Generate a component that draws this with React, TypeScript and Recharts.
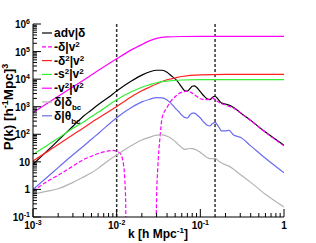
import React from 'react';
import { LineChart, Line, XAxis, YAxis, ReferenceLine } from 'recharts';

const FONT = '"Liberation Sans", Arial, Helvetica, sans-serif';

// k grid [h/Mpc]
const kValues = [
  0.001, 0.0015, 0.002, 0.003, 0.004, 0.005, 0.006, 0.008, 0.009, 0.01,
  0.011, 0.012, 0.0125, 0.0128, 0.0129, 0.013, 0.015, 0.02, 0.025, 0.029,
  0.0295, 0.03, 0.031, 0.033, 0.035, 0.04, 0.045, 0.05, 0.055, 0.06,
  0.065, 0.07, 0.075, 0.08, 0.085, 0.09, 0.1, 0.11, 0.12, 0.13,
  0.14, 0.15, 0.16, 0.17, 0.18, 0.2, 0.22, 0.25, 0.28, 0.3,
  0.4, 0.6, 1,
];

const advDelta = [
  8.1, 26, 60, 195, 450, 760, 1170, 2200, null, 3700,
  null, null, null, null, null, null, 8500, 14000, 18600, null,
  null, 21000, null, null, 21000, 17800, 13200, 10200, 7400, 5100,
  3800, 3650, 4500, 5500, 5700, 5100, 3500, 2500, 1950, 1800,
  2200, 2400, 2000, 1600, 1350, 1240, 1140, 930, 730, 610,
  320, 120, 40,
];
// negative between the two zero crossings -> pushed below the frame
const deltaV2 = [
  0.89, 2.0, 3.3, 7, 12, 16, 20, 25, 26, 24,
  20.5, 9, 2.3, 0.4, 0.03, 0.0001, 0.0001, 0.0001, 0.0001, 0.0001,
  0.02, 0.5, 6, 80, 410, 940, 1660, 2300, null, 3400,
  null, 3650, null, 3100, null, 2400, 1950, null, 1800, 1950,
  2050, 1800, null, 1400, null, 1140, null, 890, null, 600,
  310, 118, 38,
];
const delta2V2 = [
  10.7, 24, 43, 96, 170, 270, 385, null, null, 1020,
  null, null, null, null, null, null, 2300, 3800, 5200, null,
  null, 6700, null, null, null, 9500, null, 11000, null, 12500,
  null, null, null, null, null, null, 14400, null, null, null,
  null, null, null, null, null, 14800, null, null, null, null,
  null, null, 14800,
];
const s2V2 = [
  18.6, 41, 72, 164, 280, 440, 624, null, null, 1800,
  null, null, null, null, null, null, 3500, 5100, 6300, null,
  null, 7400, null, null, null, 8500, null, null, null, 9300,
  null, null, null, null, null, null, 9600, null, null, null,
  null, null, null, null, null, null, null, null, null, null,
  null, null, 9600,
];
const v2V2 = [
  617, null, 2400, null, 9100, null, 20500, null, null, 55000,
  null, null, null, null, null, null, 115000, 180000, 250000, null,
  null, 300000, null, null, null, 340000, null, null, null, 352000,
  null, null, null, null, null, null, 356000, null, null, null,
  null, null, null, null, null, null, null, null, null, null,
  null, null, 356000,
];
const deltaDeltaBc = [
  0.69, 0.87, 1.06, 1.8, 2.8, 4.0, 5.8, 11.3, null, 17.8,
  null, null, null, null, null, null, 39, 62, 79, null,
  null, 94, null, null, 95, 85, 71, 55, null, 33,
  28.5, 29.5, 30.5, 30, null, 27, 22, null, 14.5, 13,
  13, 13.3, null, 10, null, 7.8, 7.0, 5.4, null, 3.5,
  1.8, 0.67, 0.23,
];
const deltaThetaBc = [
  1.0, 2.9, 6.2, 18, 37, 66, 105, null, null, 400,
  null, null, null, null, null, null, 940, 1500, 1870, null,
  null, 2130, null, null, 2100, 1750, 1300, 890, 670, 500,
  410, 390, 500, 590, 590, 520, 390, 277, 218, 200,
  245, 270, 218, 163, 132, 134, 138, 94, 83, 78,
  38, 13.5, 4.0,
];

const xMajorTicks = [0.001, 0.01, 0.1, 1];
const xTickLabels = [['10', '-3'], ['10', '-2'], ['10', '-1'], ['1', '']];
const yMajorTicks = [0.1, 1, 10, 100, 1000, 10000, 100000, 1000000];
const yTickLabels = [
  ['10', '-1'], ['1', ''], ['10', ''], ['10', '2'],
  ['10', '3'], ['10', '4'], ['10', '5'], ['10', '6'],
];
const markerK = [0.01, 0.15];

type Seg = [string, 'n' | 'sup' | 'sub'];

const series: { key: string; values: (number | null)[]; color: string; dash?: string; label: Seg[] }[] = [
  { key: 'adv', values: advDelta, color: '#000000', label: [['adv|δ', 'n']] },
  { key: 'dv', values: deltaV2, color: '#ff00ff', dash: '4 2', label: [['-δ|v', 'n'], ['2', 'sup']] },
  { key: 'ddv', values: delta2V2, color: '#ff2020', label: [['-δ', 'n'], ['2', 'sup'], ['|v', 'n'], ['2', 'sup']] },
  { key: 'ssv', values: s2V2, color: '#33ee33', label: [['-s', 'n'], ['2', 'sup'], ['|v', 'n'], ['2', 'sup']] },
  { key: 'vv', values: v2V2, color: '#ff00ff', label: [['-v', 'n'], ['2', 'sup'], ['|v', 'n'], ['2', 'sup']] },
  { key: 'ddbc', values: deltaDeltaBc, color: '#b4b4b4', label: [['δ|δ', 'n'], ['bc', 'sub']] },
  { key: 'dtbc', values: deltaThetaBc, color: '#6b6bf0', label: [['δ|θ', 'n'], ['bc', 'sub']] },
];

const data = kValues.map((k, i) => {
  const row: Record<string, number | null> = { k };
  series.forEach((s) => {
    row[s.key] = s.values[i];
  });
  return row;
});

const withMinor = (majors: number[]) =>
  majors.flatMap((m, i) =>
    i === majors.length - 1 ? [m] : [m, 2 * m, 3 * m, 4 * m, 5 * m, 6 * m, 7 * m, 8 * m, 9 * m]
  );

const xTicks = withMinor(xMajorTicks);
const yTicks = withMinor(yMajorTicks);

const tickText = (base: string, exp: string, x: number, y: number, anchor: 'start' | 'middle' | 'end') => (
  <text x={x} y={y} textAnchor={anchor} fontSize={10} fontWeight="bold" fontFamily={FONT} fill="#000">
    {base}
    {exp && (
      <tspan dy={-4} fontSize={7}>
        {exp}
      </tspan>
    )}
  </text>
);

const YTick = ({ x, y, payload }: any) => {
  const i = yMajorTicks.indexOf(payload.value);
  return (
    <g>
      <line x1={x} x2={x + (i >= 0 ? 8 : 4)} y1={y} y2={y} stroke="#000" strokeWidth={1} />
      {i >= 0 && tickText(yTickLabels[i][0], yTickLabels[i][1], x - 3, y + 4, 'end')}
    </g>
  );
};

const XTick = ({ x, y, payload }: any) => {
  const i = xMajorTicks.indexOf(payload.value);
  return (
    <g>
      <line x1={x} x2={x} y1={y} y2={y - (i >= 0 ? 8 : 4)} stroke="#000" strokeWidth={1} />
      {i >= 0 && tickText(xTickLabels[i][0], xTickLabels[i][1], x, y + 12, 'middle')}
    </g>
  );
};

const renderSegs = (segs: Seg[]) => {
  let shift = 0;
  return segs.map(([t, kind], j) => {
    const target = kind === 'sup' ? -4 : kind === 'sub' ? 4 : 0;
    const dy = target - shift;
    shift = target;
    return (
      <tspan key={j} dy={dy} fontSize={kind === 'n' ? 12 : 8}>
        {t}
      </tspan>
    );
  });
};

export default function App() {
  return (
    <div style={{ position: 'absolute', left: 0, top: 0, width: 316, height: 243, background: '#fff' }}>
      <LineChart width={316} height={243} data={data} margin={{ top: 24, right: 32, bottom: 0, left: 0 }}>
        <XAxis
          dataKey="k"
          type="number"
          scale="log"
          domain={[0.001, 1]}
          allowDataOverflow
          ticks={xTicks}
          interval={0}
          tick={(p: any) => <XTick {...p} />}
          tickLine={false}
          tickSize={0}
          tickMargin={0}
          height={26}
          axisLine={{ stroke: '#000' }}
        />
        <XAxis
          xAxisId="top"
          orientation="top"
          dataKey="k"
          type="number"
          scale="log"
          domain={[0.001, 1]}
          height={0}
          tick={false}
          tickLine={false}
          axisLine={{ stroke: '#999', strokeWidth: 2 }}
        />
        <YAxis
          type="number"
          scale="log"
          domain={[0.1, 1000000]}
          allowDataOverflow
          ticks={yTicks}
          interval={0}
          tick={(p: any) => <YTick {...p} />}
          tickLine={false}
          tickSize={0}
          tickMargin={0}
          width={33}
          axisLine={{ stroke: '#000' }}
        />
        <YAxis
          yAxisId="right"
          orientation="right"
          type="number"
          scale="log"
          domain={[0.1, 1000000]}
          width={0}
          tick={false}
          tickLine={false}
          axisLine={{ stroke: '#666', strokeWidth: 1.5 }}
        />
        {markerK.map((k) => (
          <ReferenceLine key={k} x={k} stroke="#333" strokeWidth={1.5} strokeDasharray="3 2" />
        ))}
        {series.map((s) => (
          <Line
            key={s.key}
            dataKey={s.key}
            type="monotone"
            stroke={s.color}
            strokeWidth={1.2}
            strokeDasharray={s.dash}
            dot={false}
            activeDot={false}
            connectNulls
            isAnimationActive={false}
          />
        ))}
      </LineChart>
      <svg
        width={316}
        height={243}
        style={{ position: 'absolute', left: 0, top: 0, pointerEvents: 'none' }}
        fontFamily={FONT}
        fontWeight="bold"
      >
        <text transform="rotate(-90)" x={-107} y={12.5} textAnchor="middle" fontSize={13.5} fill="#000">
          P(k) [h
          <tspan dy={-5} fontSize={9}>-1</tspan>
          <tspan dy={5}>Mpc]</tspan>
          <tspan dy={-5} fontSize={9}>3</tspan>
        </text>
        <text x={158} y={238} textAnchor="middle" fontSize={12} fill="#000">
          k [h Mpc
          <tspan dy={-5} fontSize={8}>-1</tspan>
          <tspan dy={5}>]</tspan>
        </text>
        {series.map((s, i) => {
          const y = 33 + 13.8 * i;
          return (
            <g key={s.key}>
              <line x1={42} x2={52} y1={y} y2={y} stroke={s.color} strokeWidth={1.2} strokeDasharray={s.dash} />
              <text x={54} y={y + 4} fill="#000">
                {renderSegs(s.label)}
              </text>
            </g>
          );
        })}
      </svg>
    </div>
  );
}
